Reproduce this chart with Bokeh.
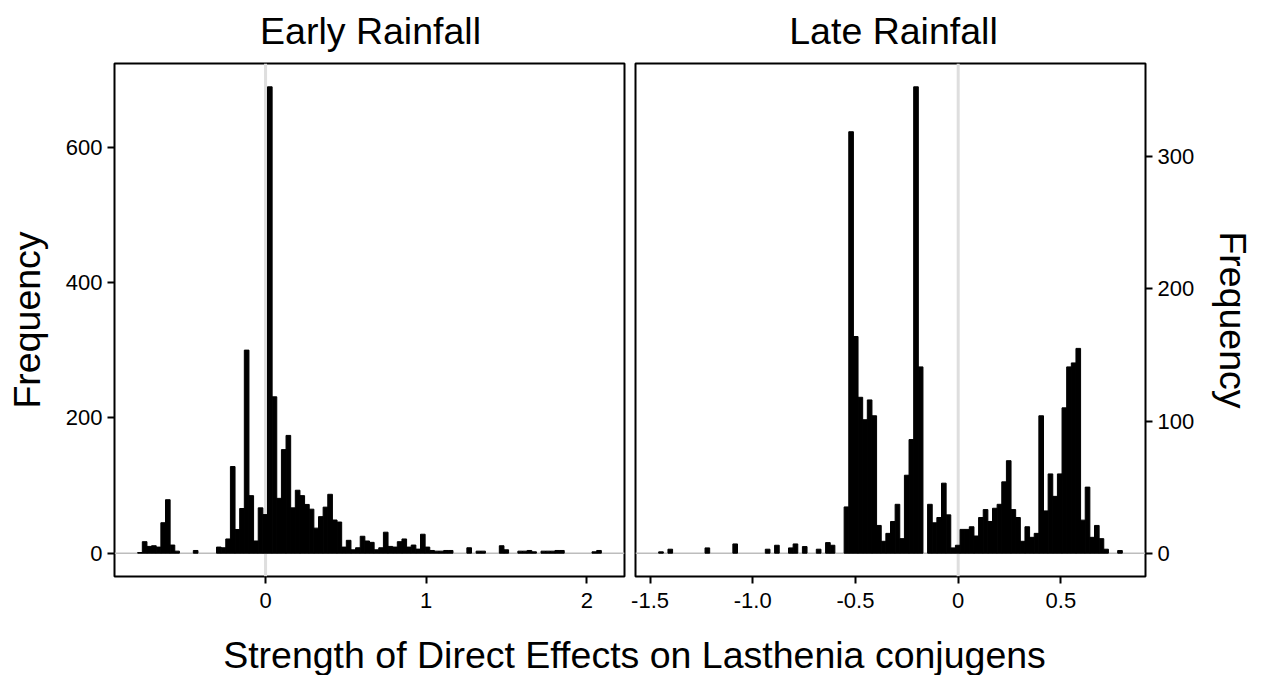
from bokeh.plotting import figure
from bokeh.models import Range1d, FixedTicker, Span, ColumnDataSource
from bokeh.layouts import row, column
from bokeh.embed import file_html
from bokeh.resources import INLINE
from bokeh.core.properties import value

FONT = "Liberation Sans"

# Histogram counts (100 equal-width bins per panel)
early_start = -0.796
early_binwidth = 0.02886
early_counts = [
    1, 17, 10, 11, 9, 45, 79, 12, 3, 0,
    0, 0, 4, 0, 0, 0, 0, 9, 8, 21,
    128, 35, 66, 300, 85, 18, 67, 57, 689, 231,
    81, 153, 174, 67, 93, 85, 72, 65, 37, 54,
    68, 87, 49, 46, 9, 19, 5, 8, 25, 18,
    16, 5, 8, 31, 10, 9, 17, 21, 9, 12,
    6, 28, 9, 4, 3, 3, 4, 4, 0, 0,
    0, 8, 0, 3, 3, 0, 0, 0, 11, 5,
    0, 0, 3, 3, 4, 2, 0, 3, 3, 3,
    4, 4, 0, 0, 0, 0, 0, 0, 2, 4,
]

late_start = -1.458
late_binwidth = 0.02257
late_counts = [
    1, 0, 3, 0, 0, 0, 0, 0, 0, 0,
    4, 0, 0, 0, 0, 0, 7, 0, 0, 0,
    0, 0, 0, 3, 0, 6, 0, 0, 4, 7,
    0, 5, 0, 0, 3, 0, 8, 6, 0, 0,
    35, 319, 164, 118, 101, 116, 104, 21, 9, 15,
    24, 37, 11, 59, 86, 353, 141, 0, 37, 23,
    27, 53, 29, 4, 6, 18, 18, 20, 13, 27,
    33, 24, 34, 37, 54, 70, 33, 27, 9, 20,
    12, 15, 104, 32, 60, 43, 60, 110, 141, 144,
    155, 25, 50, 12, 21, 11, 3, 0, 0, 2,
]

early_xticks = [0, 1, 2]
early_xlabels = ["0", "1", "2"]
early_yticks = [0, 200, 400, 600]
late_xticks = [-1.5, -1.0, -0.5, 0, 0.5]
late_xlabels = ["-1.5", "-1.0", "-0.5", "0", "0.5"]
late_yticks = [0, 100, 200, 300]

titles = ["Early Rainfall", "Late Rainfall"]
y_label = "Frequency"
x_label = "Strength of Direct Effects on Lasthenia conjugens"

BIG = "37.5px"
SMALL = "22px"

# page geometry (pixels)
PAGE_W = 1261
HEAD_H = 61
CAP_H = 55
FRAME_W = 510
FRAME_H = 513
L_BORDER = (114, 6)      # left panel: left / right border
R_BORDER = (5, 116)      # right panel: left / right border
TOP_B, BOT_B = 2, 44


def bins_source(start, binw, counts):
    left, right, top = [], [], []
    for i, c in enumerate(counts):
        if c > 0:
            left.append(start + i * binw)
            right.append(start + (i + 1) * binw)
            top.append(c)
    return ColumnDataSource(dict(left=left, right=right, top=top, bottom=[0] * len(top)))


def padded(lo, hi, frac=0.05):
    span = hi - lo
    return Range1d(lo - frac * span, hi + frac * span)


def text_strip(height, xs, ys, texts):
    """A borderless strip figure holding free text (titles / shared caption)."""
    f = figure(output_backend="svg", toolbar_location=None, width=PAGE_W, height=height,
               x_range=Range1d(0, PAGE_W), y_range=Range1d(0, height),
               x_axis_type=None, y_axis_type=None, min_border=0,
               background_fill_color="white", border_fill_color="white")
    f.grid.visible = False
    f.outline_line_color = None
    f.text(x=xs, y=ys, text=texts, text_align="center", text_baseline="middle",
           text_font=value(FONT), text_font_size=BIG, text_color="black")
    return f


def panel(start, binw, counts, xticks, xlabels, yticks, side, borders):
    n = len(counts)
    p = figure(
        output_backend="svg", toolbar_location=None, y_axis_location=side,
        x_range=padded(start, start + n * binw),
        y_range=padded(0, max(counts)),
        width=borders[0] + FRAME_W + borders[1], height=TOP_B + FRAME_H + BOT_B,
        min_border_left=borders[0], min_border_right=borders[1],
        min_border_top=TOP_B, min_border_bottom=BOT_B,
        background_fill_color="white", border_fill_color="white",
    )
    p.grid.visible = False
    p.outline_line_color = "black"
    p.outline_line_width = 2

    p.add_layout(Span(location=0, dimension="height", line_color="#dedede",
                      line_width=3, level="underlay"))
    p.add_layout(Span(location=0, dimension="width", line_color="#bdbdbd",
                      line_width=1.5, level="underlay"))

    p.quad(left="left", right="right", top="top", bottom="bottom",
           source=bins_source(start, binw, counts),
           fill_color="black", line_color="black", line_width=1)

    for ax in p.axis:
        ax.axis_line_color = None
        ax.major_tick_line_color = "black"
        ax.major_tick_line_width = 2
        ax.major_tick_out = 7
        ax.major_tick_in = 0
        ax.minor_tick_line_color = None
        ax.major_label_text_font = FONT
        ax.major_label_text_font_size = SMALL
        ax.major_label_text_color = "black"
        ax.major_label_standoff = 5

    p.xaxis.ticker = FixedTicker(ticks=xticks)
    p.xaxis.major_label_overrides = dict(zip(xticks, xlabels))
    p.xaxis.major_label_standoff = 9
    p.yaxis.ticker = FixedTicker(ticks=yticks)
    p.yaxis.axis_label = y_label
    p.yaxis.axis_label_text_font = FONT
    p.yaxis.axis_label_text_font_size = BIG
    p.yaxis.axis_label_text_font_style = "normal"
    p.yaxis.axis_label_text_color = "black"
    p.yaxis.axis_label_standoff = 15
    return p


left = panel(early_start, early_binwidth, early_counts,
             early_xticks, early_xlabels, early_yticks, "left", L_BORDER)
right = panel(late_start, late_binwidth, late_counts,
              late_xticks, late_xlabels, late_yticks, "right", R_BORDER)

left_w = L_BORDER[0] + FRAME_W + L_BORDER[1]
centers = [L_BORDER[0] + FRAME_W / 2 + 1,
           left_w + R_BORDER[0] + FRAME_W / 2 + 3]
header = text_strip(HEAD_H, centers, [HEAD_H - 30] * 2, titles)
caption = text_strip(CAP_H, [634], [21], [x_label])

layout = column(header, row(left, right, spacing=0), caption, spacing=0)

with open("out.html", "w") as f:
    f.write(file_html(layout, INLINE))
